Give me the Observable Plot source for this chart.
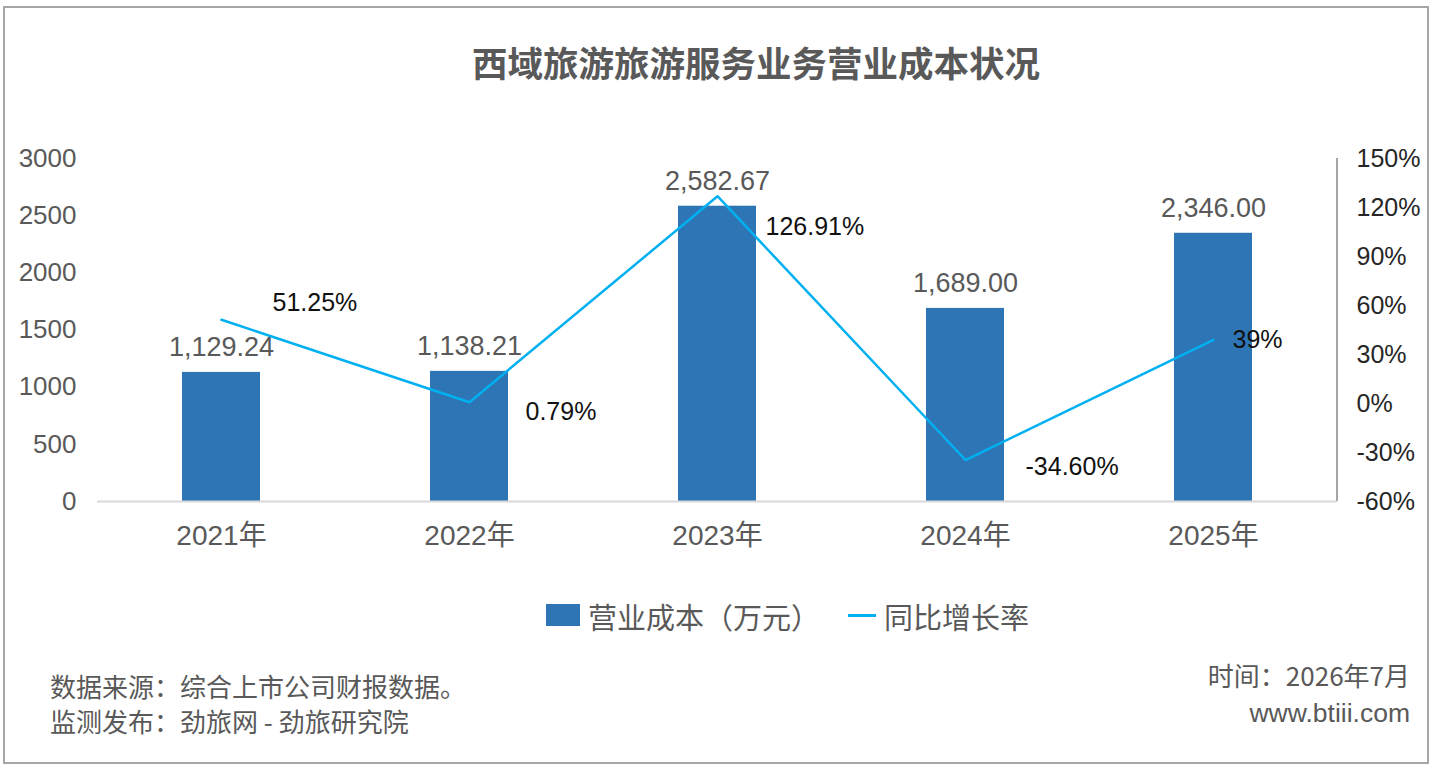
<!DOCTYPE html>
<html><head><meta charset="utf-8">
<script src="https://cdn.jsdelivr.net/npm/d3@7"></script>
<script src="https://cdn.jsdelivr.net/npm/@observablehq/plot@0.6"></script>
<style>
body{margin:0;background:#fff;}
#wrap{position:relative;width:1436px;height:774px;overflow:hidden;background:#fff;font-family:"Liberation Sans","Noto Sans CJK SC",sans-serif;}
#border{position:absolute;left:3px;top:6px;width:1422px;height:754px;border:2px solid #a6a6a6;box-sizing:content-box;}
#title{position:absolute;left:472px;top:40px;white-space:nowrap;font-family:"Noto Sans CJK SC",sans-serif;font-weight:bold;font-size:35.5px;line-height:44px;color:#595959;}
#chart{position:absolute;left:0;top:130px;}
.leg{position:absolute;top:597px;font-family:"Noto Sans CJK SC",sans-serif;font-size:29px;line-height:38px;color:#595959;white-space:nowrap;}
.foot{position:absolute;font-family:"Noto Sans CJK SC",sans-serif;font-size:26px;line-height:32px;color:#595959;white-space:nowrap;}
</style></head>
<body>
<div id="wrap">
  <div id="border"></div>
  <div id="title"></div>
  <div id="chart"></div>
  <div id="legend"></div>
  <div class="foot" id="src" style="left:50px;top:670px;"></div>
  <div class="foot" id="pub" style="left:50px;top:705px;"></div>
  <div class="foot" id="time" style="right:26px;top:659px;"></div>
  <div class="foot" id="site" style="right:26px;top:697px;font-family:'Liberation Sans',sans-serif;font-size:26.5px;"></div>
</div>
<script>
const titleText = "西域旅游旅游服务业务营业成本状况";
const years = ["2021年", "2022年", "2023年", "2024年", "2025年"];
const costs = [1129.24, 1138.21, 2582.67, 1689.00, 2346.00];
const rates = [51.25, 0.79, 126.91, -34.60, 39];
const rateLabels = ["51.25%", "0.79%", "126.91%", "-34.60%", "39%"];
const costTicks = [0, 500, 1000, 1500, 2000, 2500, 3000];
const rateTicks = [-60, -30, 0, 30, 60, 90, 120, 150];
const seriesNames = ["营业成本（万元）", "同比增长率"];
const sourceText = "数据来源：综合上市公司财报数据。";
const publishText = "监测发布：劲旅网 - 劲旅研究院";
const timeText = "时间：2026年7月";
const siteText = "www.btiii.com";

// label placement offsets (style, not data)
const rateLabelOffsets = [[51, -17], [56, 10], [48, 31], [60, 7], [19, 0]];

const barColor = "#2e75b6";
const lineColor = "#00b0f0";

// map right-axis rate onto left-axis domain
const rMin = -60, rMax = 150, cMax = 3000;
const toY = r => (r - rMin) / (rMax - rMin) * cMax;
const fromY = v => Math.round(v / cMax * (rMax - rMin) + rMin);

document.getElementById("title").textContent = titleText;
document.getElementById("src").textContent = sourceText;
document.getElementById("pub").textContent = publishText;
document.getElementById("time").textContent = timeText;
document.getElementById("site").textContent = siteText;

const data = years.map((y, i) => ({year: y, cost: costs[i], rate: rates[i], ry: toY(rates[i]), label: rateLabels[i]}));

const rightLine = (index, scales, values, dimensions) => {
  const x = dimensions.width - dimensions.marginRight;
  return d3.create("svg:line")
    .attr("x1", x).attr("x2", x)
    .attr("y1", scales.y(cMax)).attr("y2", scales.y(0))
    .attr("stroke", "#a6a6a6").attr("stroke-width", 2).node();
};

const chart = Plot.plot({
  width: 1436,
  height: 440,
  marginTop: 28,
  marginBottom: 69,
  marginLeft: 97,
  marginRight: 99,
  style: {fontFamily: "'Liberation Sans','Noto Sans CJK SC',sans-serif", background: "transparent", overflow: "visible"},
  x: {domain: years, paddingInner: 0.685, paddingOuter: 0.3425},
  y: {domain: [0, cMax]},
  marks: [
    Plot.barY(data, {x: "year", y: "cost", fill: barColor}),
    Plot.ruleY([0], {stroke: "#d9d9d9", strokeWidth: 2}),
    rightLine,
    Plot.axisX({tickSize: 0, tickPadding: 24, fontSize: 28, fill: "#595959", label: null,
      tickFormat: d => d, fontFamily: "'Liberation Sans','Noto Sans CJK SC',sans-serif"}),
    Plot.axisY(costTicks, {anchor: "left", tickSize: 0, tickPadding: 21, fontSize: 26, fill: "#595959", label: null, tickFormat: d => String(d)}),
    Plot.axisY(rateTicks.map(toY), {anchor: "right", tickSize: 0, tickPadding: 19, fontSize: 25, fill: "#262626", label: null, tickFormat: v => fromY(v) + "%"}),
    Plot.line(data, {x: "year", y: "ry", stroke: lineColor, strokeWidth: 2.5}),
    Plot.text(data, {x: "year", y: "cost", text: d => d3.format(",.2f")(d.cost), lineAnchor: "bottom", dy: -16, fontSize: 27, fill: "#595959"}),
    ...data.map((d, i) => Plot.text([d], {x: "year", y: "ry", text: "label", textAnchor: "start",
      dx: rateLabelOffsets[i][0], dy: rateLabelOffsets[i][1], fontSize: 25, fill: "#111"}))
  ]
});
document.getElementById("chart").appendChild(chart);

// legend
const legend = document.getElementById("legend");
legend.innerHTML = `
  <div style="position:absolute;left:546px;top:604px;width:34px;height:22px;background:${barColor};"></div>
  <div class="leg" style="left:588px;"></div>
  <div style="position:absolute;left:848px;top:614px;width:28px;height:3px;background:${lineColor};"></div>
  <div class="leg" style="left:884px;"></div>`;
const legs = legend.querySelectorAll(".leg");
legs[0].textContent = seriesNames[0];
legs[1].textContent = seriesNames[1];
</script>
</body></html>
